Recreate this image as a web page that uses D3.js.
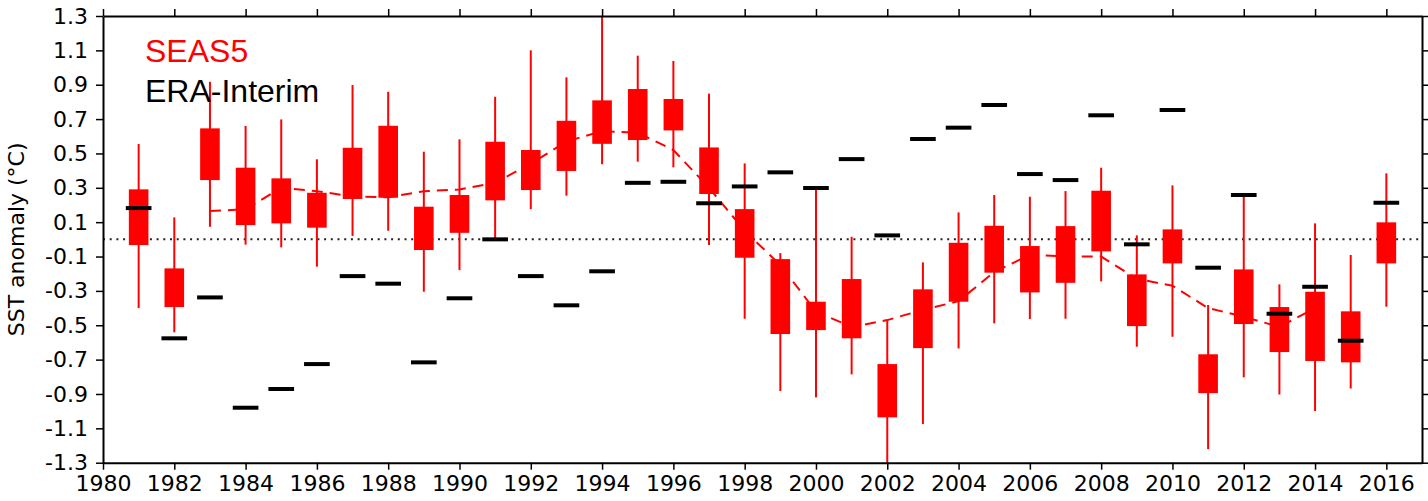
<!DOCTYPE html>
<html>
<head>
<meta charset="utf-8">
<script src="https://cdn.jsdelivr.net/npm/d3@7"></script>
<style>
  html, body { margin: 0; padding: 0; background: #fff; }
  svg { display: block; }
</style>
</head>
<body>
<svg id="chart" width="1428" height="501"></svg>
<script>
// ---- data ----
const years = [1981,1982,1983,1984,1985,1986,1987,1988,1989,1990,1991,1992,1993,1994,1995,1996,1997,1998,1999,2000,2001,2002,2003,2004,2005,2006,2007,2008,2009,2010,2011,2012,2013,2014,2015,2016];
const whiskerHigh = [0.555,0.128,0.917,0.66,0.698,0.466,0.898,0.859,0.51,0.582,0.83,1.10,0.943,1.30,1.069,1.038,0.848,0.442,-0.08,0.291,0.015,-0.474,-0.134,0.157,0.258,0.248,0.281,0.417,0.023,0.314,-0.382,0.258,-0.262,0.093,-0.091,0.384];
const boxHigh = [0.291,-0.169,0.646,0.417,0.355,0.271,0.533,0.661,0.19,0.258,0.568,0.52,0.69,0.809,0.875,0.817,0.535,0.176,-0.115,-0.363,-0.231,-0.726,-0.291,-0.02,0.079,-0.039,0.077,0.283,-0.204,0.058,-0.669,-0.175,-0.394,-0.305,-0.419,0.099];
const boxLow = [-0.033,-0.394,0.345,0.083,0.093,0.068,0.235,0.242,-0.062,0.038,0.227,0.287,0.398,0.556,0.578,0.634,0.264,-0.107,-0.551,-0.528,-0.576,-1.036,-0.633,-0.363,-0.194,-0.309,-0.253,-0.07,-0.505,-0.14,-0.895,-0.493,-0.656,-0.708,-0.716,-0.14];
const whiskerLow = [-0.40,-0.541,0.073,-0.031,-0.047,-0.159,0.02,0.05,-0.305,-0.179,0.0,0.176,0.254,0.437,0.452,0.419,-0.033,-0.462,-0.883,-0.92,-0.786,-1.30,-1.075,-0.635,-0.489,-0.464,-0.462,-0.245,-0.625,-0.567,-1.221,-0.803,-0.903,-0.999,-0.868,-0.392];
const eraInterim = [0.182,-0.576,-0.338,-0.98,-0.871,-0.726,-0.214,-0.258,-0.716,-0.343,0.0,-0.214,-0.384,-0.186,0.329,0.335,0.21,0.308,0.39,0.299,0.467,0.023,0.584,0.65,0.782,0.38,0.345,0.722,-0.029,0.753,-0.165,0.258,-0.433,-0.276,-0.59,0.213];
const meanYears = [1983,1984,1985,1986,1987,1988,1989,1990,1991,1992,1993,1994,1995,1996,1997,1998,1999,2000,2001,2002,2003,2004,2005,2006,2007,2008,2009,2010,2011,2012,2013,2014];
const runningMean = [0.165,0.175,0.30,0.28,0.25,0.245,0.28,0.29,0.33,0.44,0.57,0.63,0.62,0.52,0.30,0.05,-0.15,-0.42,-0.51,-0.47,-0.41,-0.36,-0.19,-0.09,-0.10,-0.10,-0.23,-0.27,-0.40,-0.45,-0.51,-0.40];
const xTicks = [1980,1982,1984,1986,1988,1990,1992,1994,1996,1998,2000,2002,2004,2006,2008,2010,2012,2014,2016];
const yTicks = [1.3,1.1,0.9,0.7,0.5,0.3,0.1,-0.1,-0.3,-0.5,-0.7,-0.9,-1.1,-1.3];
const yTickLabels = ["1.3","1.1","0.9","0.7","0.5","0.3","0.1","-0.1","-0.3","-0.5","-0.7","-0.9","-1.1","-1.3"];
const legendLabels = ["SEAS5","ERA-Interim"];
const yLabel = "SST anomaly (\u00B0C)";

// ---- layout ----
const L = 103, R = 1422, T = 16, B = 462.7;
const svg = d3.select("#chart");
const x = d3.scaleLinear().domain([1980, 2017]).range([L, R]);
const y = d3.scaleLinear().domain([-1.3, 1.3]).range([B, T]);
const boxW = 0.55, eraW = 0.72;
const red = "#ff0000";

// zero dotted line
svg.append("line")
  .attr("x1", L).attr("x2", R).attr("y1", y(0)).attr("y2", y(0))
  .attr("stroke", "#222").attr("stroke-width", 2)
  .attr("stroke-dasharray", "2,4.7");

// running mean dashed line
svg.append("path")
  .datum(meanYears.map((yr, i) => [yr, runningMean[i]]))
  .attr("fill", "none").attr("stroke", red).attr("stroke-width", 2)
  .attr("stroke-dasharray", "11,7")
  .attr("d", d3.line().x(d => x(d[0])).y(d => y(d[1])));

// whiskers
svg.append("g").selectAll("line").data(years).join("line")
  .attr("x1", d => x(d)).attr("x2", d => x(d))
  .attr("y1", (d, i) => y(whiskerHigh[i])).attr("y2", (d, i) => y(whiskerLow[i]))
  .attr("stroke", red).attr("stroke-width", 2);

// boxes
svg.append("g").selectAll("rect").data(years).join("rect")
  .attr("x", d => x(d - boxW / 2))
  .attr("width", d => x(d + boxW / 2) - x(d - boxW / 2))
  .attr("y", (d, i) => y(boxHigh[i]))
  .attr("height", (d, i) => y(boxLow[i]) - y(boxHigh[i]))
  .attr("fill", red);

// ERA-Interim bars
svg.append("g").selectAll("line").data(years).join("line")
  .attr("x1", d => x(d - eraW / 2)).attr("x2", d => x(d + eraW / 2))
  .attr("y1", (d, i) => y(eraInterim[i])).attr("y2", (d, i) => y(eraInterim[i]))
  .attr("stroke", "#000").attr("stroke-width", 4);

// axes
const fontFam = "'DejaVu Sans', sans-serif";
function styleAxis(g) {
  g.select(".domain").attr("stroke", "#000").attr("stroke-width", 2);
  g.selectAll(".tick line").attr("stroke", "#000").attr("stroke-width", 1.5);
  g.selectAll(".tick text").attr("font-family", fontFam).attr("font-size", 22).attr("fill", "#000");
}
const yLabelMap = new Map(yTicks.map((v, i) => [v, yTickLabels[i]]));
svg.append("g").attr("transform", `translate(0,${B})`)
  .call(d3.axisBottom(x).tickValues(xTicks).tickFormat(d3.format("d")).tickSize(7).tickSizeOuter(0).tickPadding(6))
  .call(styleAxis);
svg.append("g").attr("transform", `translate(0,${T})`)
  .call(d3.axisTop(x).tickValues(xTicks).tickFormat("").tickSize(7).tickSizeOuter(0))
  .call(styleAxis);
svg.append("g").attr("transform", `translate(${L},0)`)
  .call(d3.axisLeft(y).tickValues(yTicks).tickFormat(d => yLabelMap.get(d)).tickSize(7).tickSizeOuter(0).tickPadding(8))
  .call(styleAxis);
svg.append("g").attr("transform", `translate(${R},0)`)
  .call(d3.axisRight(y).tickValues(yTicks).tickFormat("").tickSize(7).tickSizeOuter(0))
  .call(styleAxis);

// y label
svg.append("text")
  .attr("transform", `translate(24,${(T + B) / 2}) rotate(-90)`)
  .attr("text-anchor", "middle")
  .attr("font-family", fontFam).attr("font-size", 22)
  .text(yLabel);

// legend text
svg.append("text").attr("x", 145).attr("y", 61.5)
  .attr("font-family", "'Liberation Sans', Arial, sans-serif").attr("font-size", 32)
  .attr("fill", red).text(legendLabels[0]);
svg.append("text").attr("x", 145).attr("y", 101.5)
  .attr("font-family", "'Liberation Sans', Arial, sans-serif").attr("font-size", 32)
  .attr("fill", "#000").text(legendLabels[1]);
</script>
</body>
</html>
